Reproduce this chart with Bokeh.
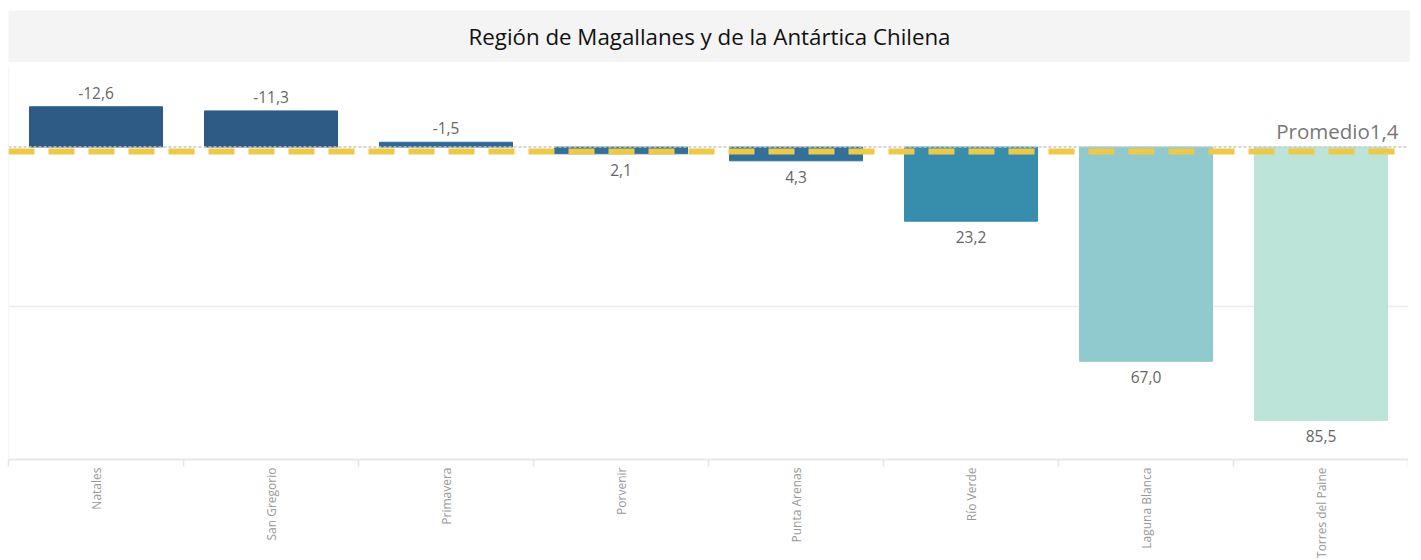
import math
from bokeh.plotting import figure
from bokeh.models import (ColumnDataSource, Range1d, FixedTicker, Span, Label,
                          CustomJSTickFormatter)
from bokeh.layouts import column
from bokeh.embed import file_html
from bokeh.resources import INLINE
from bokeh.core.properties import value

title_text = "Región de Magallanes y de la Antártica Chilena"
categories = ["Natales", "San Gregorio", "Primavera", "Porvenir",
              "Punta Arenas", "Río Verde", "Laguna Blanca", "Torres del Paine"]
values = [-12.6, -11.3, -1.5, 2.1, 4.3, 23.2, 67.0, 85.5]
colors = ["#2D5B86", "#2D5B86", "#2F6A94", "#32709A", "#32709A",
          "#368EAC", "#90C9CE", "#BCE4D9"]
average = 1.4
avg_label = "Promedio" + f"{average:.1f}".replace(".", ",")

FONT = "Open Sans"

xs = [i + 0.5 for i in range(len(categories))]
labels = [f"{v:.1f}".replace(".", ",") for v in values]
baselines = ["bottom" if v < 0 else "top" for v in values]
yoffs = [-8 if v < 0 else 10 for v in values]

src = ColumnDataSource(dict(x=xs, top=values, color=colors, label=labels,
                            baseline=baselines, yoff=yoffs))

# ---- title band ----
t = figure(width=1410, height=62, x_range=(0, 1), y_range=(0, 1),
           toolbar_location=None, output_backend="svg", min_border=0,
           min_border_top=10, min_border_left=8)
t.background_fill_color = "#f4f4f4"
t.border_fill_color = "white"
t.outline_line_color = None
t.axis.visible = False
t.grid.visible = False
t.add_layout(Label(x=0.5, y=0.5, text=title_text, text_align="center",
                   text_baseline="middle", text_font=FONT,
                   text_font_size="22.3px", text_color="#111111"))

# ---- main chart ----
p = figure(width=1408, height=498, x_range=Range1d(0, len(categories)),
           y_range=Range1d(97.7, -25.5), toolbar_location=None,
           output_backend="svg", min_border_left=8, min_border_right=0,
           min_border_top=3)
p.outline_line_color = None
p.background_fill_color = "white"
p.yaxis.visible = False
p.xgrid.visible = False
p.ygrid.ticker = FixedTicker(ticks=[50])
p.ygrid.grid_line_color = "#ececec"
p.ygrid.grid_line_width = 1.5

p.vbar(x="x", top="top", bottom=0, width=0.76, color="color", source=src)

p.text(x="x", y="top", text="label", text_align="center",
       text_baseline="baseline", y_offset="yoff", text_font=value(FONT),
       text_font_size="15.5px", text_color="#666666", source=src)

p.add_layout(Span(location=0, dimension="width", line_color="#c8c8c8",
                  line_width=1.5, line_dash="3 2"))
p.add_layout(Span(location=0, dimension="height", line_color="#eeeeee",
                  line_width=1.5))
p.add_layout(Span(location=average, dimension="width", line_color="#EDC948",
                  line_width=6, line_dash="26 14"))
p.add_layout(Label(x=len(categories), y=average, text=avg_label,
                   text_align="right", text_baseline="bottom",
                   x_offset=-10, y_offset=7, text_font=FONT,
                   text_font_size="20.5px", text_color="#777777"))

ax = p.xaxis[0]
ax.ticker = FixedTicker(ticks=xs, minor_ticks=list(range(len(categories) + 1)))
ax.formatter = CustomJSTickFormatter(args=dict(labels=categories),
                                     code="return labels[Math.floor(tick)] || '';")
ax.major_label_orientation = math.pi / 2
ax.major_tick_line_color = None
ax.major_tick_out = 0
ax.major_tick_in = 0
ax.minor_tick_out = 7
ax.minor_tick_in = 0
ax.minor_tick_line_color = "#e4e4e4"
ax.minor_tick_line_width = 1.5
ax.axis_line_color = "#e8e8e8"
ax.axis_line_width = 2
ax.major_label_standoff = 1
ax.major_label_text_font = FONT
ax.major_label_text_font_size = "12px"
ax.major_label_text_color = "#999999"

layout = column(t, p, spacing=0)
open("out.html", "w").write(file_html(layout, INLINE))
